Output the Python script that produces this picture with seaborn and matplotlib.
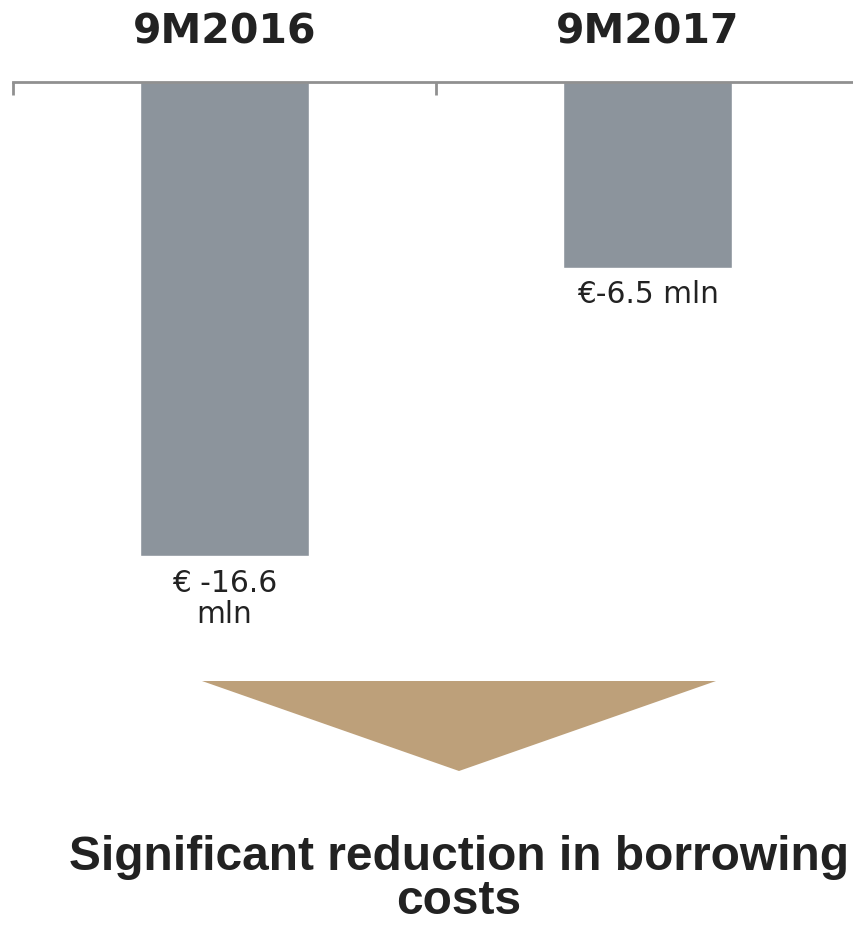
import matplotlib
matplotlib.use("Agg")
import matplotlib.pyplot as plt
from matplotlib.patches import Polygon
import seaborn as sns
import pandas as pd

categories = ["9M2016", "9M2017"]
values = [-16.6, -6.5]
value_labels = ["€ -16.6\nmln", "€-6.5 mln"]
conclusion = "Significant reduction in borrowing\ncosts"

BAR_COLOR = "#8C949C"
ARROW_COLOR = "#BDA07A"
TEXT_COLOR = "#222222"
AXIS_COLOR = "#909090"

W, H, DPI = 854, 925, 100
sns.set_theme(style="white")
plt.rcParams["font.family"] = ["DejaVu Sans"]

fig = plt.figure(figsize=(W / DPI, H / DPI), dpi=DPI)
ax = fig.add_axes([13 / W, 0, 846 / W, 1 - 82 / H])

df = pd.DataFrame({"period": categories, "value": values})
sns.barplot(data=df, x="period", y="value", color=BAR_COLOR, width=0.4,
            saturation=1, ax=ax)
ax.set_ylim(-29.5, 0)
ax.set_xlim(-0.5, 1.5)

# Axis line across the top with boundary ticks pointing down
for side in ["left", "right", "bottom"]:
    ax.spines[side].set_visible(False)
ax.spines["top"].set_color(AXIS_COLOR)
ax.spines["top"].set_linewidth(2)
ax.xaxis.set_ticks_position("top")
ax.set_xticks([-0.5, 0.5, 1.5])
ax.set_xticklabels([])
ax.tick_params(axis="x", direction="out", length=0)
ax.set_yticks([])
ax.set_xlabel("")
ax.set_ylabel("")
for xb in [-0.5, 0.5]:
    ax.plot([xb, xb], [0, -13 / 28.57], color=AXIS_COLOR, lw=2,
            solid_capstyle="butt", clip_on=False)

# Period headings above the axis line
for i, cat in enumerate(categories):
    ax.annotate(cat, xy=(i, 1), xycoords=("data", "axes fraction"),
                xytext=(0, 39 * 72 / DPI), textcoords="offset points",
                ha="center", va="baseline", fontsize=29.5, fontweight="bold",
                color=TEXT_COLOR)

# Value labels under each bar
for i, (v, lab) in enumerate(zip(values, value_labels)):
    ax.annotate(lab, xy=(i, v), xytext=(0, -9), textcoords="offset points",
                ha="center", va="top", fontsize=21.3, color=TEXT_COLOR,
                linespacing=1.1)

# Downward arrow shape
tri = Polygon([(202 / W, 1 - 681 / H), (716 / W, 1 - 681 / H),
               (459 / W, 1 - 771 / H)], closed=True,
              transform=fig.transFigure, facecolor=ARROW_COLOR,
              edgecolor="none")
fig.patches.append(tri)

fig.text(459 / W, 1 - 914 / H, conclusion, ha="center", va="baseline",
         fontsize=34.5, fontweight="bold", family=["Liberation Sans"],
         color=TEXT_COLOR, linespacing=0.96, multialignment="center")

fig.savefig("out.png", dpi=DPI)
